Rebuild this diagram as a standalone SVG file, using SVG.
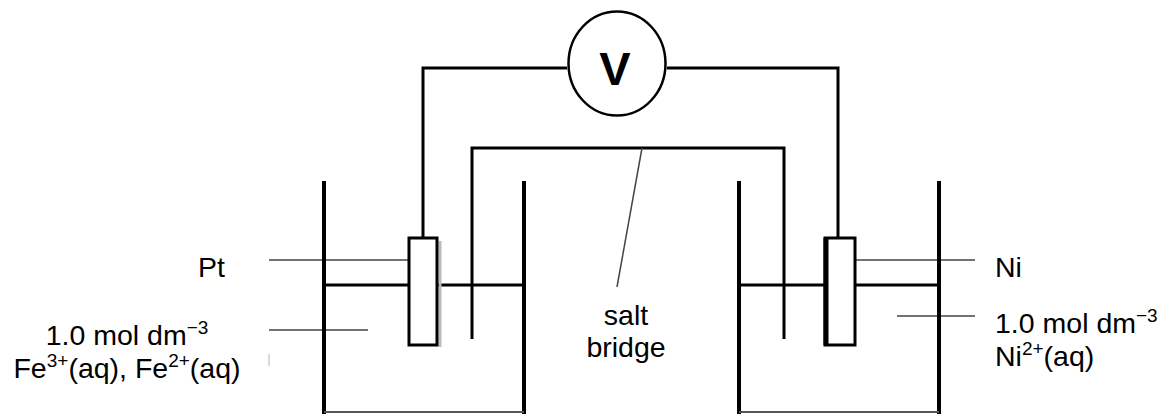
<svg xmlns="http://www.w3.org/2000/svg" width="1165" height="414" viewBox="0 0 1165 414">
<style>
.wall{stroke:#000;stroke-width:4;fill:none;stroke-linecap:butt}
.base{stroke:#555;stroke-width:2;fill:none}
.liq{stroke:#000;stroke-width:3;fill:none}
.wire{stroke:#000;stroke-width:3;fill:none;stroke-linejoin:miter}
.lead{stroke:#444;stroke-width:1.5;fill:none}
.elec{stroke:#000;stroke-width:3;fill:#fff}
text{font-family:"Liberation Sans",Arial,sans-serif;font-size:28.5px;fill:#000}
.sup{font-size:19px}
</style>
<rect width="1165" height="414" fill="#fff"/>
<g id="connectors">
<path class="wire" d="M423 238 V68 H567"/>
<path class="wire" d="M667 68 H838 V238"/>
<path id="salt-bridge" class="wire" d="M472 339 V148 H784 V339"/>
<line class="lead" x1="642" y1="148" x2="617" y2="287"/>
<line class="lead" x1="269" y1="260" x2="424" y2="260"/>
<line class="lead" x1="269" y1="330" x2="368" y2="330"/>
<line class="lead" x1="839" y1="260" x2="975" y2="260"/>
<line class="lead" x1="897" y1="316" x2="975" y2="316"/>
<line x1="269" y1="354" x2="269" y2="366" stroke="#ccc" stroke-width="1.5"/>
</g>
<g id="voltmeter">
<ellipse cx="617" cy="63.5" rx="48.5" ry="52" fill="#fff" stroke="#000" stroke-width="2.5"/>
<text x="615" y="85" text-anchor="middle" style="font-size:47px;font-weight:bold">V</text>
</g>
<g id="left-beaker">
<path class="wall" d="M324 181 V414"/>
<path class="wall" d="M524 181 V414"/>
<line class="base" x1="324" y1="412" x2="524" y2="412"/>
<line class="liq" x1="324" y1="285" x2="408" y2="285"/>
<line class="liq" x1="437" y1="285" x2="524" y2="285"/>
</g>
<g id="right-beaker">
<path class="wall" d="M739 181 V414"/>
<path class="wall" d="M939 181 V414"/>
<line class="base" x1="739" y1="412" x2="939" y2="412"/>
<line class="liq" x1="739" y1="285" x2="824" y2="285"/>
<line class="liq" x1="855" y1="285" x2="939" y2="285"/>
</g>
<g id="pt-electrode">
<line x1="440" y1="241" x2="440" y2="347" stroke="#bbb" stroke-width="3"/>
<rect class="elec" x="409" y="238" width="28" height="107"/>
</g>
<g id="ni-electrode">
<rect class="elec" x="825" y="238" width="30" height="107"/>
<line x1="826" y1="238" x2="826" y2="345" stroke="#000" stroke-width="5"/>
</g>
<g id="labels">
<text x="225" y="277" text-anchor="end">Pt</text>
<text x="127" y="345" text-anchor="middle">1.0 mol dm<tspan class="sup" dy="-11">−3</tspan></text>
<text x="127" y="378" text-anchor="middle">Fe<tspan class="sup" dy="-11">3+</tspan><tspan dy="11">(aq), Fe</tspan><tspan class="sup" dy="-11">2+</tspan><tspan dy="11">(aq)</tspan></text>
<text x="626" y="325" text-anchor="middle">salt</text>
<text x="626" y="357" text-anchor="middle">bridge</text>
<text x="995" y="277">Ni</text>
<text x="995" y="333">1.0 mol dm<tspan class="sup" dy="-11">−3</tspan></text>
<text x="995" y="366">Ni<tspan class="sup" dy="-11">2+</tspan><tspan dy="11">(aq)</tspan></text>
</g>
</svg>
